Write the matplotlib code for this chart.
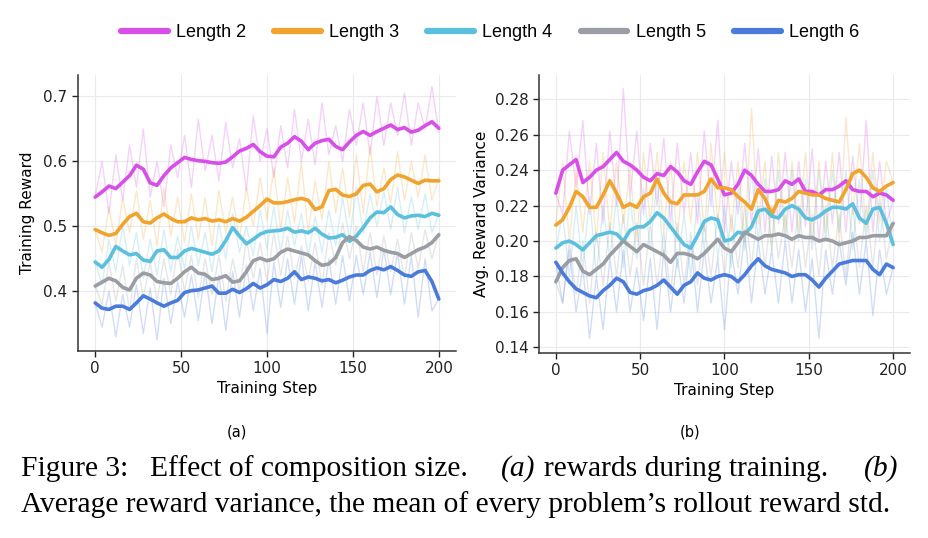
import numpy as np
import matplotlib
matplotlib.use("Agg")
import matplotlib.pyplot as plt

# ---------------- data ----------------
steps = list(range(0, 201, 4))
series_labels = ["Length 2", "Length 3", "Length 4", "Length 5", "Length 6"]
series_colors = ["#D84EE8", "#F0A42E", "#5BC0DE", "#9A9DA3", "#4A7BDB"]

# (a) training reward, smoothed
reward_smooth_len2 = [0.545, 0.553, 0.562, 0.558, 0.568, 0.578, 0.594, 0.588, 0.567, 0.563,
                      0.578, 0.590, 0.598, 0.606, 0.603, 0.601, 0.600, 0.598, 0.597, 0.599,
                      0.607, 0.616, 0.620, 0.626, 0.615, 0.608, 0.607, 0.622, 0.628, 0.638,
                      0.631, 0.618, 0.628, 0.632, 0.634, 0.623, 0.618, 0.630, 0.640, 0.646,
                      0.640, 0.646, 0.651, 0.656, 0.649, 0.652, 0.645, 0.648, 0.655, 0.661,
                      0.651]
reward_smooth_len3 = [0.495, 0.490, 0.486, 0.489, 0.503, 0.515, 0.520, 0.507, 0.505, 0.513,
                      0.519, 0.512, 0.507, 0.507, 0.513, 0.510, 0.512, 0.508, 0.510, 0.507,
                      0.512, 0.508, 0.514, 0.523, 0.532, 0.542, 0.536, 0.536, 0.538, 0.541,
                      0.543, 0.540, 0.526, 0.530, 0.555, 0.557, 0.548, 0.546, 0.550, 0.563,
                      0.565, 0.553, 0.558, 0.572, 0.579, 0.576, 0.571, 0.566, 0.571, 0.570,
                      0.570]
reward_smooth_len4 = [0.445, 0.437, 0.449, 0.469, 0.462, 0.456, 0.458, 0.448, 0.446, 0.462,
                      0.464, 0.452, 0.452, 0.462, 0.466, 0.463, 0.460, 0.457, 0.462, 0.478,
                      0.498, 0.485, 0.473, 0.480, 0.488, 0.492, 0.493, 0.494, 0.497, 0.491,
                      0.493, 0.490, 0.497, 0.488, 0.482, 0.483, 0.487, 0.477, 0.485, 0.498,
                      0.513, 0.522, 0.521, 0.530, 0.518, 0.513, 0.516, 0.517, 0.515, 0.520,
                      0.517]
reward_smooth_len5 = [0.408, 0.414, 0.420, 0.416, 0.406, 0.402, 0.420, 0.428, 0.425, 0.415,
                      0.413, 0.412, 0.420, 0.430, 0.437, 0.428, 0.426, 0.418, 0.420, 0.424,
                      0.414, 0.416, 0.430, 0.447, 0.451, 0.447, 0.450, 0.460, 0.465, 0.462,
                      0.459, 0.456, 0.447, 0.440, 0.442, 0.452, 0.475, 0.484, 0.478, 0.468,
                      0.465, 0.468, 0.463, 0.460, 0.458, 0.452, 0.458, 0.464, 0.468, 0.475,
                      0.487]
reward_smooth_len6 = [0.382, 0.374, 0.372, 0.377, 0.377, 0.372, 0.382, 0.393, 0.388, 0.382,
                      0.377, 0.382, 0.386, 0.398, 0.401, 0.402, 0.405, 0.408, 0.397, 0.397,
                      0.403, 0.398, 0.404, 0.412, 0.405, 0.410, 0.418, 0.415, 0.420, 0.430,
                      0.418, 0.422, 0.420, 0.416, 0.418, 0.413, 0.417, 0.422, 0.425, 0.425,
                      0.432, 0.436, 0.433, 0.438, 0.432, 0.425, 0.423, 0.430, 0.432, 0.415,
                      0.388]

# (a) training reward, raw
reward_raw_len2 = [0.545, 0.600, 0.520, 0.610, 0.540, 0.625, 0.560, 0.650, 0.545, 0.600,
                   0.530, 0.625, 0.575, 0.640, 0.560, 0.665, 0.585, 0.640, 0.570, 0.660,
                   0.590, 0.635, 0.555, 0.670, 0.600, 0.650, 0.575, 0.655, 0.590, 0.680,
                   0.600, 0.665, 0.595, 0.690, 0.610, 0.655, 0.600, 0.680, 0.625, 0.690,
                   0.610, 0.700, 0.625, 0.690, 0.640, 0.705, 0.625, 0.690, 0.650, 0.715,
                   0.645]
reward_raw_len3 = [0.495, 0.460, 0.530, 0.470, 0.545, 0.490, 0.555, 0.480, 0.540, 0.470,
                   0.560, 0.485, 0.545, 0.475, 0.550, 0.480, 0.545, 0.470, 0.555, 0.490,
                   0.545, 0.480, 0.560, 0.500, 0.575, 0.510, 0.590, 0.495, 0.575, 0.505,
                   0.600, 0.490, 0.570, 0.510, 0.600, 0.520, 0.590, 0.515, 0.610, 0.520,
                   0.625, 0.530, 0.590, 0.535, 0.615, 0.540, 0.600, 0.545, 0.610, 0.540,
                   0.575]
reward_raw_len4 = [0.445, 0.410, 0.480, 0.430, 0.500, 0.440, 0.490, 0.420, 0.480, 0.425,
                   0.495, 0.430, 0.485, 0.435, 0.500, 0.440, 0.490, 0.430, 0.505, 0.450,
                   0.520, 0.460, 0.500, 0.455, 0.525, 0.465, 0.530, 0.460, 0.525, 0.470,
                   0.520, 0.455, 0.515, 0.460, 0.525, 0.470, 0.545, 0.480, 0.560, 0.490,
                   0.550, 0.500, 0.555, 0.495, 0.560, 0.490, 0.545, 0.495, 0.550, 0.490,
                   0.520]
reward_raw_len5 = [0.408, 0.380, 0.445, 0.385, 0.440, 0.370, 0.450, 0.390, 0.445, 0.385,
                   0.450, 0.395, 0.465, 0.400, 0.455, 0.390, 0.450, 0.395, 0.455, 0.385,
                   0.450, 0.400, 0.480, 0.420, 0.475, 0.415, 0.490, 0.425, 0.485, 0.420,
                   0.470, 0.415, 0.475, 0.410, 0.490, 0.440, 0.505, 0.450, 0.500, 0.430,
                   0.490, 0.425, 0.485, 0.430, 0.480, 0.420, 0.490, 0.435, 0.495, 0.450,
                   0.490]
reward_raw_len6 = [0.382, 0.345, 0.400, 0.330, 0.395, 0.345, 0.410, 0.335, 0.405, 0.325,
                   0.420, 0.350, 0.415, 0.360, 0.425, 0.355, 0.430, 0.350, 0.425, 0.340,
                   0.430, 0.360, 0.440, 0.370, 0.435, 0.335, 0.445, 0.375, 0.450, 0.380,
                   0.455, 0.370, 0.445, 0.375, 0.450, 0.380, 0.455, 0.385, 0.455, 0.395,
                   0.460, 0.390, 0.465, 0.395, 0.460, 0.380, 0.455, 0.360, 0.450, 0.370,
                   0.388]

# (b) average reward variance, smoothed
var_smooth_len2 = [0.227, 0.240, 0.243, 0.246, 0.233, 0.236, 0.240, 0.242, 0.246, 0.250,
                   0.245, 0.243, 0.240, 0.236, 0.234, 0.238, 0.237, 0.242, 0.239, 0.234,
                   0.232, 0.239, 0.245, 0.243, 0.235, 0.226, 0.227, 0.232, 0.240, 0.237,
                   0.232, 0.228, 0.228, 0.229, 0.234, 0.232, 0.235, 0.228, 0.228, 0.226,
                   0.229, 0.229, 0.231, 0.234, 0.229, 0.228, 0.228, 0.225, 0.227, 0.226,
                   0.223]
var_smooth_len3 = [0.209, 0.212, 0.219, 0.228, 0.225, 0.219, 0.219, 0.226, 0.234, 0.227,
                   0.219, 0.221, 0.219, 0.225, 0.227, 0.235, 0.227, 0.222, 0.221, 0.226,
                   0.226, 0.226, 0.228, 0.235, 0.230, 0.230, 0.229, 0.225, 0.222, 0.218,
                   0.229, 0.224, 0.215, 0.223, 0.222, 0.224, 0.228, 0.227, 0.226, 0.226,
                   0.224, 0.223, 0.222, 0.229, 0.238, 0.240, 0.236, 0.230, 0.228, 0.231,
                   0.233]
var_smooth_len4 = [0.196, 0.199, 0.200, 0.198, 0.195, 0.199, 0.203, 0.204, 0.205, 0.204,
                   0.200, 0.206, 0.208, 0.208, 0.211, 0.216, 0.213, 0.208, 0.203, 0.198,
                   0.196, 0.203, 0.211, 0.213, 0.212, 0.200, 0.201, 0.205, 0.204, 0.208,
                   0.217, 0.218, 0.214, 0.213, 0.218, 0.220, 0.218, 0.213, 0.212, 0.214,
                   0.217, 0.219, 0.219, 0.218, 0.221, 0.213, 0.210, 0.218, 0.219, 0.210,
                   0.198]
var_smooth_len5 = [0.177, 0.185, 0.189, 0.190, 0.183, 0.181, 0.184, 0.187, 0.192, 0.196,
                   0.200, 0.197, 0.194, 0.198, 0.196, 0.194, 0.192, 0.188, 0.193, 0.193,
                   0.192, 0.190, 0.193, 0.197, 0.201, 0.196, 0.194, 0.199, 0.205, 0.203,
                   0.201, 0.203, 0.203, 0.204, 0.203, 0.201, 0.203, 0.202, 0.202, 0.200,
                   0.201, 0.200, 0.198, 0.199, 0.200, 0.202, 0.202, 0.203, 0.203, 0.203,
                   0.210]
var_smooth_len6 = [0.188, 0.182, 0.177, 0.173, 0.171, 0.169, 0.168, 0.172, 0.175, 0.179,
                   0.177, 0.171, 0.170, 0.172, 0.173, 0.175, 0.178, 0.174, 0.170, 0.175,
                   0.177, 0.182, 0.179, 0.178, 0.180, 0.181, 0.180, 0.177, 0.181, 0.186,
                   0.190, 0.186, 0.184, 0.183, 0.182, 0.180, 0.181, 0.181, 0.178, 0.174,
                   0.179, 0.183, 0.187, 0.188, 0.189, 0.189, 0.189, 0.184, 0.181, 0.187,
                   0.185]

# (b) average reward variance, raw
var_raw_len2 = [0.227, 0.215, 0.262, 0.230, 0.268, 0.215, 0.255, 0.210, 0.262, 0.220,
                0.286, 0.225, 0.262, 0.215, 0.255, 0.220, 0.258, 0.210, 0.255, 0.215,
                0.250, 0.210, 0.262, 0.220, 0.268, 0.205, 0.245, 0.215, 0.255, 0.210,
                0.252, 0.205, 0.248, 0.210, 0.250, 0.205, 0.245, 0.208, 0.252, 0.200,
                0.245, 0.210, 0.250, 0.205, 0.248, 0.210, 0.268, 0.205, 0.245, 0.210,
                0.223]
var_raw_len3 = [0.209, 0.245, 0.200, 0.240, 0.205, 0.245, 0.200, 0.250, 0.205, 0.245,
                0.210, 0.240, 0.200, 0.250, 0.210, 0.250, 0.205, 0.245, 0.200, 0.245,
                0.210, 0.250, 0.205, 0.255, 0.210, 0.250, 0.205, 0.245, 0.200, 0.275,
                0.210, 0.245, 0.195, 0.250, 0.205, 0.245, 0.205, 0.250, 0.200, 0.245,
                0.205, 0.250, 0.200, 0.270, 0.215, 0.255, 0.205, 0.250, 0.210, 0.245,
                0.233]
var_raw_len4 = [0.196, 0.215, 0.180, 0.220, 0.185, 0.225, 0.180, 0.220, 0.190, 0.225,
                0.185, 0.225, 0.190, 0.230, 0.195, 0.235, 0.190, 0.225, 0.185, 0.215,
                0.180, 0.225, 0.195, 0.235, 0.190, 0.220, 0.185, 0.230, 0.195, 0.240,
                0.200, 0.235, 0.195, 0.240, 0.200, 0.240, 0.200, 0.235, 0.195, 0.240,
                0.200, 0.240, 0.205, 0.240, 0.195, 0.235, 0.200, 0.240, 0.200, 0.230,
                0.198]
var_raw_len5 = [0.177, 0.165, 0.200, 0.170, 0.200, 0.165, 0.205, 0.175, 0.210, 0.180,
                0.215, 0.180, 0.210, 0.175, 0.210, 0.175, 0.205, 0.170, 0.210, 0.175,
                0.205, 0.175, 0.210, 0.180, 0.215, 0.180, 0.215, 0.185, 0.220, 0.185,
                0.220, 0.185, 0.220, 0.190, 0.215, 0.185, 0.220, 0.185, 0.215, 0.180,
                0.220, 0.185, 0.215, 0.180, 0.220, 0.185, 0.220, 0.185, 0.225, 0.190,
                0.210]
var_raw_len6 = [0.188, 0.165, 0.195, 0.160, 0.185, 0.145, 0.180, 0.150, 0.190, 0.160,
                0.195, 0.160, 0.185, 0.155, 0.190, 0.150, 0.195, 0.160, 0.190, 0.165,
                0.200, 0.160, 0.195, 0.165, 0.190, 0.150, 0.195, 0.170, 0.205, 0.165,
                0.200, 0.170, 0.195, 0.165, 0.200, 0.165, 0.195, 0.160, 0.190, 0.145,
                0.195, 0.170, 0.200, 0.175, 0.205, 0.170, 0.200, 0.158, 0.195, 0.170,
                0.185]

x_ticks = [0, 50, 100, 150, 200]
reward_yticks = [0.4, 0.5, 0.6, 0.7]
var_yticks = [0.14, 0.16, 0.18, 0.20, 0.22, 0.24, 0.26, 0.28]

caption_line1 = [("Figure 3:", "normal"), ("Effect of composition size.", "normal"),
                 ("(a)", "italic"), ("rewards during training.", "normal"), ("(b)", "italic")]
caption_line2 = "Average reward variance, the mean of every problem\u2019s rollout reward std."

# ---------------- figure ----------------
W, H = 929, 538
fig = plt.figure(figsize=(W / 100, H / 100), dpi=100)
plt.rcParams["font.family"] = ["DejaVu Sans"]


def fx(px):
    return px / W


def fy(py):
    return 1 - py / H


ax1 = fig.add_axes([fx(78), fy(351), fx(456 - 78), (351 - 75) / H])
ax2 = fig.add_axes([fx(539), fy(353), fx(910 - 539), (353 - 75) / H])

raw_a = [reward_raw_len2, reward_raw_len3, reward_raw_len4, reward_raw_len5, reward_raw_len6]
smooth_a = [reward_smooth_len2, reward_smooth_len3, reward_smooth_len4, reward_smooth_len5, reward_smooth_len6]
raw_b = [var_raw_len2, var_raw_len3, var_raw_len4, var_raw_len5, var_raw_len6]
smooth_b = [var_smooth_len2, var_smooth_len3, var_smooth_len4, var_smooth_len5, var_smooth_len6]

handles = []
for ax, raws, smooths in [(ax1, raw_a, smooth_a), (ax2, raw_b, smooth_b)]:
    for raw, c in zip(raws, series_colors):
        ax.plot(steps, raw, color=c, alpha=0.25, lw=1.0, zorder=2)
    for sm, c, lab in zip(smooths, series_colors, series_labels):
        h, = ax.plot(steps, sm, color=c, lw=2.6, zorder=3, label=lab,
                     solid_joinstyle="round", solid_capstyle="round")
        if ax is ax1:
            handles.append(h)
    ax.set_xlim(-10, 210)
    ax.set_xticks(x_ticks)
    ax.grid(True, color="#e9e9ee", lw=0.8, zorder=0)
    ax.set_axisbelow(True)
    for s in ["top", "right"]:
        ax.spines[s].set_visible(False)
    for s in ["left", "bottom"]:
        ax.spines[s].set_color("#333333")
        ax.spines[s].set_linewidth(1.1)
    ax.tick_params(labelsize=11, colors="#222222", length=4, width=1.0)
    ax.set_xlabel("Training Step", fontsize=11, labelpad=3)

ax1.set_ylim(0.308, 0.733)
ax1.set_yticks(reward_yticks)
ax1.set_yticklabels([f"{v:.1f}" for v in reward_yticks])
ax1.set_ylabel("Training Reward", fontsize=11, labelpad=6)

ax2.set_ylim(0.1368, 0.2937)
ax2.set_yticks(var_yticks)
ax2.set_yticklabels([f"{v:.2f}" for v in var_yticks])
ax2.set_ylabel("Avg. Reward Variance", fontsize=11, labelpad=4)

fig.text(fx(237), fy(432), "(a)", ha="center", va="center", fontsize=10.5)
fig.text(fx(690), fy(432), "(b)", ha="center", va="center", fontsize=10.5)

leg = fig.legend(handles=handles, labels=series_labels, loc="center",
                 bbox_to_anchor=(fx(490), fy(33)), ncol=5, frameon=False,
                 prop={"family": "Liberation Sans", "size": 13},
                 handlelength=2.6, handletextpad=0.45, columnspacing=1.55)
for lh in leg.get_lines():
    lh.set_linewidth(4.5)

# caption: fit line 2 to its measured width, justify line 1
renderer = fig.canvas.get_renderer()
probe = fig.text(0, 0, caption_line2, fontsize=10, family="Liberation Serif")
wpx = probe.get_window_extent(renderer=renderer).width
probe.remove()
cap_size = 10 * (892 - 21) / wpx

fig.text(fx(21), fy(512), caption_line2, fontsize=cap_size, family="Liberation Serif",
         ha="left", va="baseline")

seg_widths = []
for txt, st in caption_line1:
    p = fig.text(0, 0, txt, fontsize=cap_size, family="Liberation Serif", style=st)
    seg_widths.append(p.get_window_extent(renderer=renderer).width)
    p.remove()
gap_weights = [22, 35, 9, 36]
left_px, right_px = 21, 898
leftover = (right_px - left_px) - sum(seg_widths)
gaps = [leftover * g / sum(gap_weights) for g in gap_weights]
xpos = left_px
for i, ((txt, st), wseg) in enumerate(zip(caption_line1, seg_widths)):
    fig.text(fx(xpos), fy(476), txt, fontsize=cap_size, family="Liberation Serif",
             style=st, ha="left", va="baseline")
    xpos += wseg + (gaps[i] if i < len(gaps) else 0)

fig.savefig("out.png", dpi=100)
